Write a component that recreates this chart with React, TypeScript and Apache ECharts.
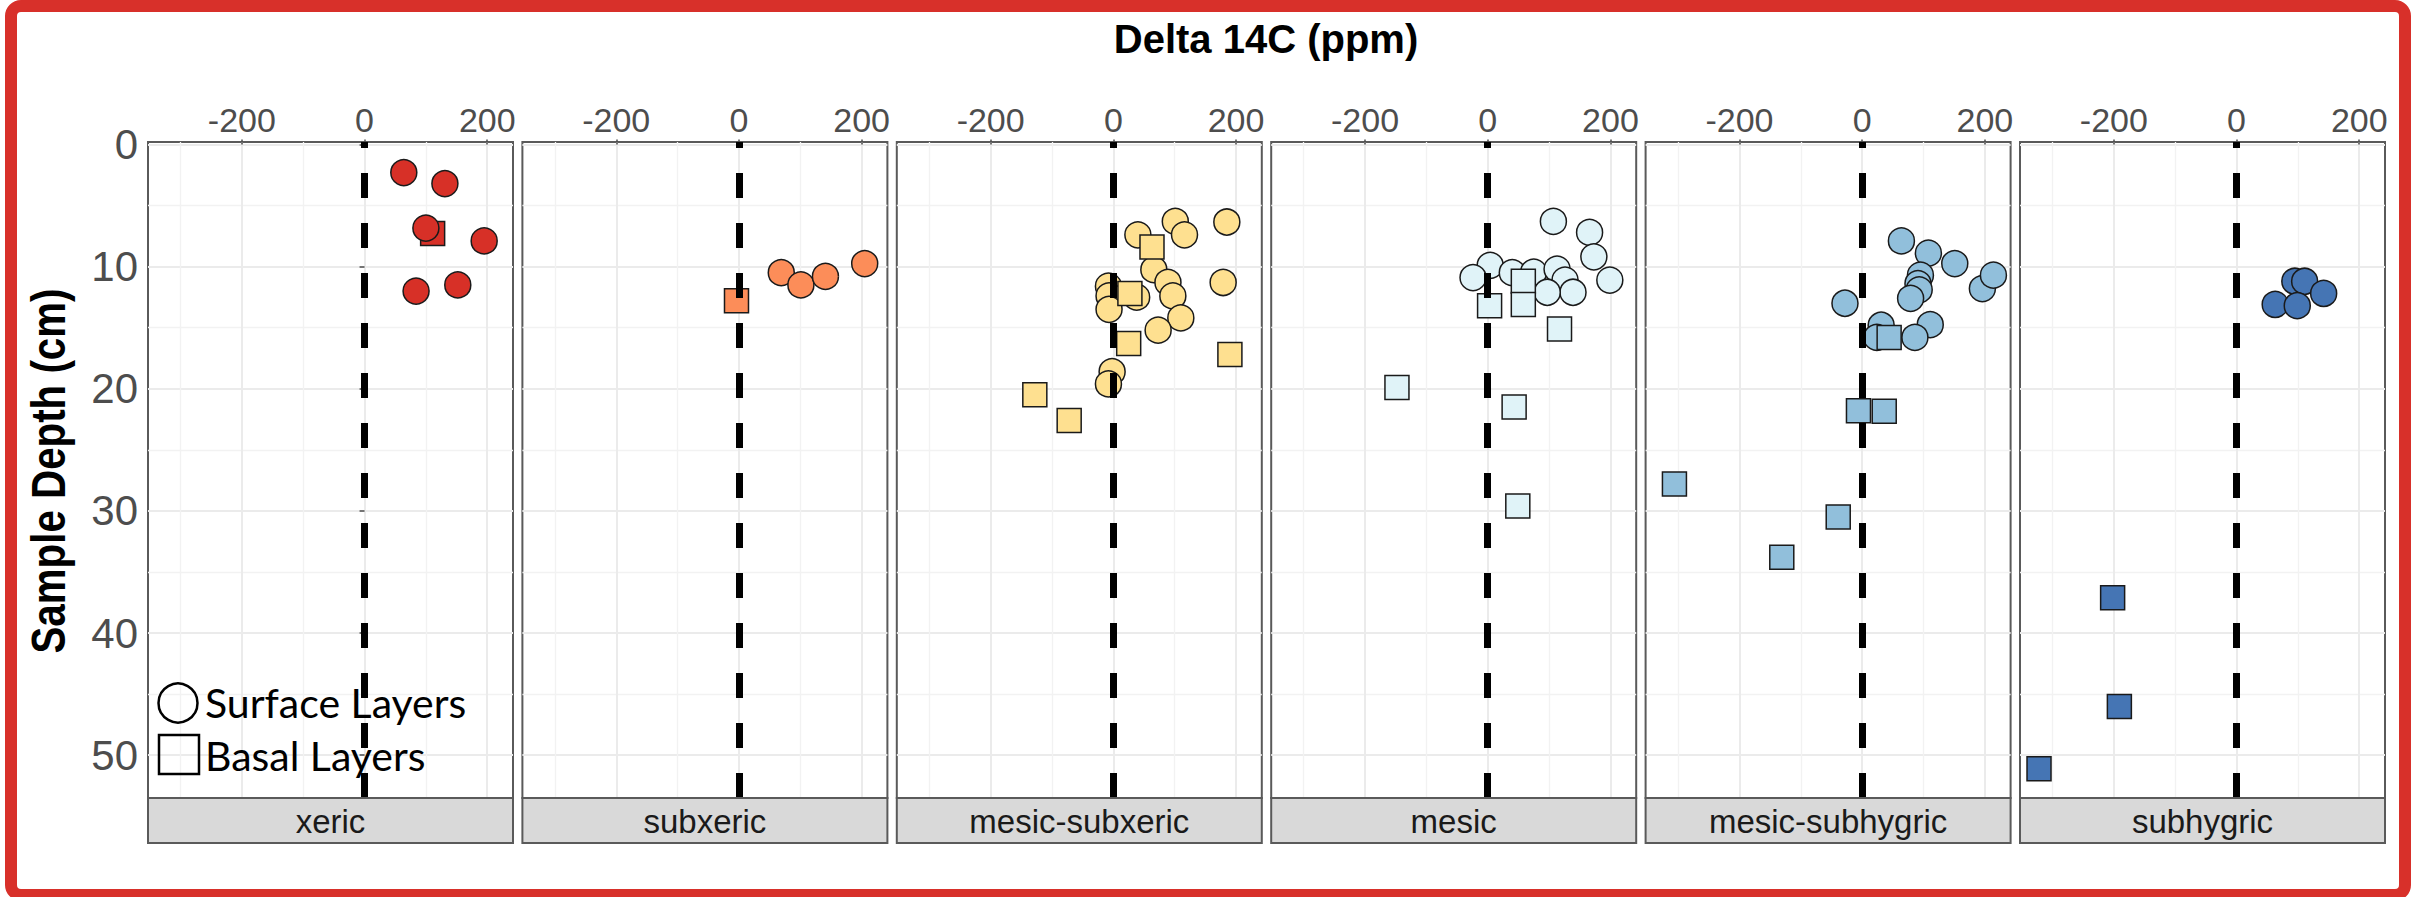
import React, { useEffect, useRef } from "react";
import * as echarts from "echarts";

type Pt = [number, number];

// Facet categories (moisture regime) and their fill colours
const habitats = ["xeric", "subxeric", "mesic-subxeric", "mesic", "mesic-subhygric", "subhygric"];
const habitatColors = ["#D73027", "#FC8D59", "#FEE090", "#E0F3F8", "#91BFDB", "#4575B4"];

// [Delta 14C (ppm), sample depth (cm)]
const xericSurface: Pt[] = [[64, 2.3], [131, 3.2], [195, 7.9], [84, 12.0], [152, 11.5]];
const xericBasal: Pt[] = [[111, 7.3]];
const xericSurfaceTop: Pt[] = [[100, 6.85]];

const subxericSurface: Pt[] = [[69, 10.5], [101, 11.5], [141, 10.8], [205, 9.75]];
const subxericBasal: Pt[] = [[-4, 12.8]];

const mesicSubxericSurface: Pt[] = [
  [101, 6.3], [185, 6.35], [116, 7.4], [40, 7.4], [66, 10.25], [89, 11.3], [179, 11.3],
  [-8, 11.6], [-7, 12.4], [38, 12.5], [97, 12.4], [-7, 13.5], [110, 14.2], [73, 15.2],
  [-2, 18.6], [-8, 19.6],
];
const mesicSubxericBasal: Pt[] = [[63, 8.4], [27, 12.2], [25, 16.3], [190, 17.2], [-128, 20.5], [-72, 22.6]];

const mesicSurface: Pt[] = [
  [107, 6.3], [166, 7.2], [173, 9.2], [199, 11.1], [4, 9.9], [-24, 10.9], [40, 10.5],
  [75, 10.45], [113, 10.2], [126, 11.1], [139, 12.1], [97, 12.1],
];
const mesicBasal: Pt[] = [[58, 11.2], [3, 13.2], [58, 13.1], [117, 15.1], [-148, 19.9], [43, 21.5], [49, 29.6]];

const mesicSubhygricSurface: Pt[] = [
  [64, 7.9], [108, 8.9], [151, 9.75], [196, 11.8], [214, 10.7], [95, 10.7], [91, 11.4],
  [93, 11.9], [79, 12.6], [-28, 13.0], [31, 14.8], [111, 14.75], [24, 15.8], [86, 15.8],
];
const mesicSubhygricBasal: Pt[] = [[44, 15.8], [-6, 21.8], [36, 21.85], [-306, 27.8], [-39, 30.5], [-131, 33.8]];

const subhygricSurface: Pt[] = [[95, 11.2], [111, 11.2], [142, 12.2], [63, 13.1], [99, 13.2]];
const subhygricBasal: Pt[] = [[-202, 37.1], [-191, 46.0], [-322, 51.1]];

const surfaceByHabitat: Pt[][] = [
  xericSurface, subxericSurface, mesicSubxericSurface, mesicSurface, mesicSubhygricSurface, subhygricSurface,
];
const basalByHabitat: Pt[][] = [
  xericBasal, subxericBasal, mesicSubxericBasal, mesicBasal, mesicSubhygricBasal, subhygricBasal,
];
// surface points drawn above the basal squares
const surfaceOverlayByHabitat: Pt[][] = [xericSurfaceTop, [], [], [], [], []];

// Axis ticks
const xMajorTicks = [-200, 0, 200];
const xMinorTicks = [-300, -100, 100];
const yMajorTicks = [0, 10, 20, 30, 40, 50];
const yMinorTicks = [5, 15, 25, 35, 45];
const X_MIN = -353;
const X_MAX = 242;
const Y_MIN = -0.2;
const Y_MAX = 53.5;

const legendLabels = ["Surface Layers", "Basal Layers"];
const xTitle = "Delta 14C (ppm)";
const yTitle = "Sample Depth (cm)";

// Layout
const PANEL_LEFT = 148;
const PANEL_STEP = 374.4;
const PANEL_W = 365;
const PANEL_TOP = 142;
const PANEL_H = 656;
const STRIP_H = 45;

const AXIS_GREY = "#4D4D4D";
const BORDER_GREY = "#5A5A5A";
const SANS = "'Liberation Sans', Arial, sans-serif";
const NARROW = "'Liberation Sans Narrow', 'Arial Narrow', 'Liberation Sans', sans-serif";

function buildOption() {
  const grid: any[] = [];
  const xAxis: any[] = [];
  const yAxis: any[] = [];
  const series: any[] = [];
  const graphic: any[] = [];

  habitats.forEach((name, i) => {
    const left = PANEL_LEFT + i * PANEL_STEP;
    grid.push({
      left, top: PANEL_TOP, width: PANEL_W, height: PANEL_H,
      show: true, borderColor: BORDER_GREY, borderWidth: 2, backgroundColor: "#FFFFFF",
      containLabel: false, outerBoundsMode: "none",
    });

    xAxis.push({
      type: "value", gridIndex: i, position: "top", min: X_MIN, max: X_MAX,
      axisLine: { show: false },
      axisTick: { show: true, customValues: xMajorTicks, length: 5, lineStyle: { color: AXIS_GREY, width: 1.5 } },
      axisLabel: { show: true, customValues: xMajorTicks, margin: 5, fontSize: 34, color: AXIS_GREY, fontFamily: SANS },
      splitLine: { show: true, lineStyle: { color: "#EBEBEB", width: 2 } },
    });
    xAxis.push({
      type: "value", gridIndex: i, position: "top", min: X_MIN, max: X_MAX,
      axisLine: { show: false },
      axisTick: { show: false, customValues: xMinorTicks },
      axisLabel: { show: false, customValues: xMinorTicks },
      splitLine: { show: true, lineStyle: { color: "#F2F2F2", width: 1.3 } },
    });

    yAxis.push({
      type: "value", gridIndex: i, position: "left", inverse: true, min: Y_MIN, max: Y_MAX,
      axisLine: { show: false },
      axisTick: { show: i === 0, customValues: yMajorTicks, length: 5, lineStyle: { color: AXIS_GREY, width: 1.5 } },
      axisLabel: { show: i === 0, customValues: yMajorTicks, margin: 10, fontSize: 42, color: AXIS_GREY, fontFamily: NARROW },
      splitLine: { show: true, lineStyle: { color: "#EBEBEB", width: 2 } },
    });
    yAxis.push({
      type: "value", gridIndex: i, position: "left", inverse: true, min: Y_MIN, max: Y_MAX,
      axisLine: { show: false },
      axisTick: { show: false, customValues: yMinorTicks },
      axisLabel: { show: false, customValues: yMinorTicks },
      splitLine: { show: true, lineStyle: { color: "#F2F2F2", width: 1.3 } },
    });

    const pointStyle = { color: habitatColors[i], borderColor: "#1A1A1A", borderWidth: 1.5, opacity: 1 };

    series.push({
      type: "scatter", name: legendLabels[0], xAxisIndex: 2 * i, yAxisIndex: 2 * i,
      symbol: "circle", symbolSize: 26, data: surfaceByHabitat[i], itemStyle: pointStyle,
      silent: true, z: 2,
      markLine: {
        silent: true, symbol: ["none", "none"], label: { show: false }, z: 10,
        lineStyle: { color: "#000000", width: 7, type: [25, 25] },
        emphasis: { disabled: true },
        data: [[{ coord: [0, Y_MAX] }, { coord: [0, Y_MIN] }]],
      },
    });
    series.push({
      type: "scatter", name: legendLabels[1], xAxisIndex: 2 * i, yAxisIndex: 2 * i,
      symbol: "rect", symbolSize: 24, data: basalByHabitat[i], itemStyle: pointStyle,
      silent: true, z: 3,
    });
    if (surfaceOverlayByHabitat[i].length) {
      series.push({
        type: "scatter", name: legendLabels[0], xAxisIndex: 2 * i, yAxisIndex: 2 * i,
        symbol: "circle", symbolSize: 26, data: surfaceOverlayByHabitat[i], itemStyle: pointStyle,
        silent: true, z: 4,
      });
    }

    // facet strip below the panel
    graphic.push({
      type: "rect", silent: true, z: 20,
      shape: { x: left, y: PANEL_TOP + PANEL_H, width: PANEL_W, height: STRIP_H },
      style: { fill: "#D9D9D9", stroke: BORDER_GREY, lineWidth: 2 },
    });
    graphic.push({
      type: "text", silent: true, z: 21, x: left + PANEL_W / 2, y: PANEL_TOP + PANEL_H + STRIP_H / 2 + 1,
      style: {
        text: name, fill: "#1A1A1A", fontSize: 33, fontFamily: SANS,
        align: "center", verticalAlign: "middle", textAlign: "center", textVerticalAlign: "middle",
      },
    });
  });

  // Shared axis titles
  graphic.push({
    type: "text", silent: true, z: 21, x: 1266, y: 39,
    style: {
      text: xTitle, fill: "#000000", fontSize: 40, fontWeight: "bold", fontFamily: SANS,
      align: "center", verticalAlign: "middle", textAlign: "center", textVerticalAlign: "middle",
    },
  });
  graphic.push({
    type: "text", silent: true, z: 21, x: 48, y: 471, rotation: Math.PI / 2, scaleX: 0.84,
    style: {
      text: yTitle, fill: "#000000", fontSize: 48, fontWeight: "bold", fontFamily: SANS,
      align: "center", verticalAlign: "middle", textAlign: "center", textVerticalAlign: "middle",
    },
  });

  // Shape legend inside the first panel
  graphic.push({
    type: "circle", silent: true, z: 22, shape: { cx: 178, cy: 703, r: 19.5 },
    style: { fill: "none", stroke: "#000000", lineWidth: 2.5 },
  });
  graphic.push({
    type: "rect", silent: true, z: 22, shape: { x: 159, y: 735, width: 40, height: 39 },
    style: { fill: "none", stroke: "#000000", lineWidth: 2.5 },
  });
  legendLabels.forEach((label, k) => {
    graphic.push({
      type: "text", silent: true, z: 22, x: 205, y: k === 0 ? 702 : 755,
      style: {
        text: label, fill: "#000000", fontSize: 41, fontFamily: "Lato, 'Open Sans', sans-serif",
        align: "left", verticalAlign: "middle", textAlign: "left", textVerticalAlign: "middle",
      },
    });
  });

  // Red frame around the figure
  graphic.push({
    type: "rect", silent: true, z: 30,
    shape: { x: 11, y: 6, width: 2394, height: 889, r: 10 },
    style: { fill: "none", stroke: "#D8302A", lineWidth: 12 },
  });

  return {
    animation: false,
    backgroundColor: "#FFFFFF",
    grid, xAxis, yAxis, series, graphic,
  };
}

export default function App() {
  const ref = useRef<HTMLDivElement>(null);

  useEffect(() => {
    document.body.style.margin = "0";
    if (!ref.current) return;
    const chart = echarts.init(ref.current, undefined, { renderer: "svg" });
    chart.setOption(buildOption() as any);
    return () => chart.dispose();
  }, []);

  return <div ref={ref} style={{ width: 2419, height: 897 }} />;
}
